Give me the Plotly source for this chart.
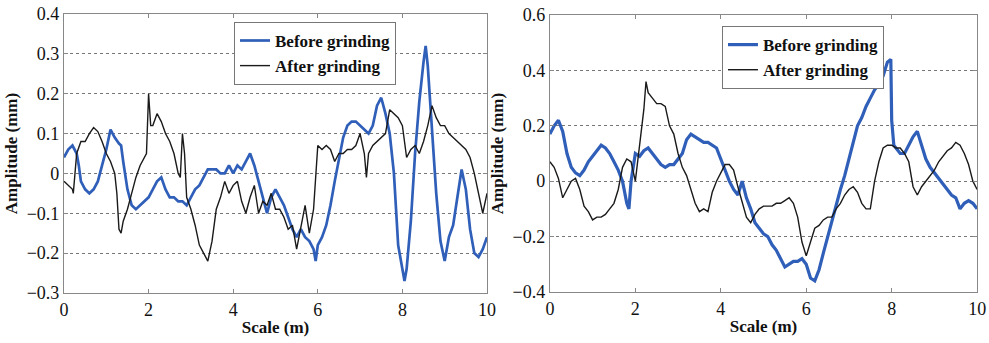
import plotly.graph_objects as go

# ---------- Left panel ----------
left_before_x = [0, 0.1, 0.2, 0.3, 0.35, 0.4, 0.5, 0.6, 0.7, 0.8, 0.9, 1.0, 1.1, 1.2, 1.3, 1.35, 1.4, 1.5, 1.6, 1.7,
                 1.8, 1.9, 2.0, 2.1, 2.2, 2.3, 2.4, 2.5, 2.6, 2.7, 2.8, 2.9, 3.0, 3.1, 3.2, 3.3, 3.4, 3.5, 3.6, 3.7,
                 3.8, 3.9, 4.0, 4.1, 4.2, 4.3, 4.4, 4.5, 4.6, 4.7, 4.8, 4.9, 5.0, 5.1, 5.2, 5.3, 5.4, 5.5, 5.6, 5.7,
                 5.8, 5.9, 5.95, 6.0, 6.1, 6.2, 6.3, 6.4, 6.5, 6.6, 6.7, 6.8, 6.9, 7.0, 7.1, 7.2, 7.3, 7.4, 7.5, 7.6,
                 7.7, 7.8, 7.9, 8.0, 8.05, 8.1, 8.2, 8.3, 8.4, 8.5, 8.55, 8.6, 8.7, 8.8, 8.9, 9.0, 9.1, 9.2, 9.3, 9.4,
                 9.5, 9.6, 9.7, 9.8, 9.9, 10.0]
left_before_y = [0.04, 0.06, 0.07, 0.05, 0.02, -0.02, -0.04, -0.05, -0.04, -0.02, 0.02, 0.06, 0.11, 0.09, 0.075, 0.07, 0.03, -0.04, -0.08, -0.09,
                 -0.08, -0.07, -0.06, -0.04, -0.02, -0.01, -0.04, -0.06, -0.06, -0.07, -0.07, -0.08, -0.06, -0.04, -0.03, -0.01, 0.01, 0.01, 0.01, 0.0,
                 0.0, 0.02, 0.0, 0.02, 0.01, 0.03, 0.05, 0.02, -0.02, -0.06, -0.10, -0.06, -0.04, -0.06, -0.08, -0.11, -0.14, -0.16, -0.14, -0.16,
                 -0.17, -0.19, -0.22, -0.18, -0.16, -0.13, -0.08, -0.02, 0.04, 0.09, 0.12, 0.13, 0.13, 0.12, 0.11, 0.10, 0.12, 0.17, 0.19, 0.15,
                 0.10, 0.0, -0.18, -0.24, -0.27, -0.24, -0.12, 0.05, 0.18, 0.28, 0.32, 0.27, 0.10, -0.05, -0.17, -0.22, -0.16, -0.13, -0.06, 0.01,
                 -0.04, -0.14, -0.20, -0.21, -0.19, -0.16]

left_after_x = [0, 0.1, 0.2, 0.22, 0.3, 0.4, 0.5, 0.6, 0.7, 0.8, 0.9, 1.0, 1.1, 1.2, 1.25, 1.3, 1.35, 1.4, 1.5, 1.6,
                1.7, 1.8, 1.9, 1.95, 2.0, 2.05, 2.1, 2.2, 2.3, 2.4, 2.5, 2.6, 2.7, 2.75, 2.8, 2.85, 2.9, 3.0, 3.1, 3.2,
                3.3, 3.4, 3.5, 3.6, 3.7, 3.8, 3.9, 4.0, 4.1, 4.2, 4.3, 4.4, 4.5, 4.6, 4.7, 4.8, 4.9, 5.0, 5.1, 5.2,
                5.3, 5.4, 5.5, 5.6, 5.7, 5.8, 5.9, 6.0, 6.1, 6.2, 6.3, 6.4, 6.5, 6.6, 6.7, 6.8, 6.9, 7.0, 7.1, 7.15,
                7.2, 7.3, 7.4, 7.5, 7.6, 7.7, 7.8, 7.9, 8.0, 8.1, 8.2, 8.3, 8.4, 8.5, 8.6, 8.7, 8.8, 8.9, 9.0, 9.1,
                9.2, 9.3, 9.4, 9.5, 9.6, 9.7, 9.8, 9.9, 10.0]
left_after_y = [-0.02, -0.03, -0.04, -0.05, 0.05, 0.08, 0.08, 0.10, 0.115, 0.105, 0.08, 0.05, 0.03, 0.0, -0.05, -0.14, -0.15, -0.12, -0.09, -0.05,
                -0.01, 0.02, 0.04, 0.05, 0.20, 0.12, 0.12, 0.15, 0.13, 0.10, 0.08, 0.05, 0.0, -0.01, 0.10, 0.05, -0.06, -0.09, -0.13, -0.18,
                -0.20, -0.22, -0.17, -0.09, -0.06, -0.02, -0.05, -0.03, -0.02, -0.07, -0.10, -0.06, -0.03, -0.10, -0.07, -0.08, -0.05, -0.09, -0.09, -0.11,
                -0.14, -0.13, -0.19, -0.13, -0.08, -0.15, -0.09, 0.07, 0.06, 0.07, 0.06, 0.03, 0.05, 0.05, 0.06, 0.06, 0.07, 0.10, 0.05, -0.01,
                0.05, 0.07, 0.08, 0.09, 0.10, 0.16, 0.15, 0.14, 0.12, 0.04, 0.06, 0.07, 0.05, 0.08, 0.12, 0.17, 0.14, 0.12, 0.12, 0.10,
                0.09, 0.08, 0.07, 0.06, 0.04, 0.0, -0.05, -0.10, -0.05]

# ---------- Right panel ----------
right_before_x = [0, 0.1, 0.2, 0.3, 0.4, 0.5, 0.6, 0.7, 0.8, 0.9, 1.0, 1.1, 1.2, 1.3, 1.4, 1.5, 1.6, 1.7, 1.8, 1.85,
                  1.9, 2.0, 2.1, 2.2, 2.3, 2.4, 2.5, 2.6, 2.7, 2.8, 2.9, 3.0, 3.1, 3.2, 3.3, 3.4, 3.5, 3.6, 3.7, 3.8,
                  3.9, 4.0, 4.1, 4.2, 4.3, 4.4, 4.5, 4.6, 4.7, 4.8, 4.9, 5.0, 5.1, 5.2, 5.3, 5.4, 5.5, 5.6, 5.7, 5.8,
                  5.9, 6.0, 6.1, 6.2, 6.3, 6.4, 6.5, 6.6, 6.7, 6.8, 6.9, 7.0, 7.1, 7.2, 7.3, 7.4, 7.5, 7.6, 7.7, 7.8,
                  7.9, 7.98, 8.0, 8.05, 8.1, 8.2, 8.3, 8.4, 8.5, 8.6, 8.7, 8.8, 8.9, 9.0, 9.1, 9.2, 9.3, 9.4, 9.5, 9.6,
                  9.7, 9.8, 9.9, 10.0]
right_before_y = [0.17, 0.20, 0.22, 0.18, 0.10, 0.05, 0.03, 0.02, 0.04, 0.07, 0.09, 0.11, 0.13, 0.12, 0.10, 0.07, 0.04, 0.0, -0.08, -0.10,
                  0.0, 0.10, 0.09, 0.11, 0.12, 0.10, 0.08, 0.06, 0.05, 0.06, 0.06, 0.08, 0.10, 0.15, 0.17, 0.16, 0.15, 0.14, 0.14, 0.13,
                  0.12, 0.08, 0.04, 0.0, -0.03, -0.05, 0.0, -0.06, -0.10, -0.15, -0.17, -0.19, -0.20, -0.23, -0.25, -0.28, -0.31, -0.30, -0.29, -0.29,
                  -0.28, -0.30, -0.35, -0.36, -0.32, -0.26, -0.20, -0.14, -0.08, -0.03, 0.02, 0.08, 0.14, 0.20, 0.23, 0.27, 0.30, 0.33, 0.35, 0.38,
                  0.43, 0.44, 0.22, 0.13, 0.12, 0.10, 0.10, 0.13, 0.16, 0.18, 0.13, 0.08, 0.05, 0.03, 0.01, -0.01, -0.03, -0.05, -0.06, -0.10,
                  -0.08, -0.07, -0.08, -0.10]

right_after_x = [0, 0.1, 0.2, 0.3, 0.4, 0.5, 0.6, 0.7, 0.8, 0.9, 1.0, 1.1, 1.2, 1.3, 1.4, 1.5, 1.6, 1.7, 1.8, 1.9,
                 2.0, 2.1, 2.2, 2.25, 2.3, 2.4, 2.5, 2.6, 2.7, 2.8, 2.9, 3.0, 3.1, 3.2, 3.3, 3.4, 3.5, 3.6, 3.7, 3.8,
                 3.9, 4.0, 4.1, 4.2, 4.3, 4.4, 4.5, 4.6, 4.7, 4.8, 4.9, 5.0, 5.1, 5.2, 5.3, 5.4, 5.5, 5.6, 5.7, 5.8,
                 5.9, 6.0, 6.1, 6.2, 6.3, 6.4, 6.5, 6.6, 6.7, 6.8, 6.9, 7.0, 7.1, 7.2, 7.3, 7.4, 7.5, 7.6, 7.7, 7.8,
                 7.9, 8.0, 8.1, 8.2, 8.3, 8.4, 8.5, 8.6, 8.7, 8.8, 8.9, 9.0, 9.1, 9.2, 9.3, 9.4, 9.5, 9.6, 9.7, 9.8,
                 9.9, 10.0]
right_after_y = [0.07, 0.05, 0.01, -0.06, -0.03, 0.0, 0.01, -0.03, -0.09, -0.11, -0.14, -0.13, -0.13, -0.12, -0.10, -0.08, -0.03, 0.05, 0.08, 0.07,
                 0.0, 0.14, 0.26, 0.36, 0.32, 0.30, 0.28, 0.28, 0.27, 0.20, 0.17, 0.10, 0.05, 0.02, -0.03, -0.08, -0.11, -0.10, -0.11, -0.04,
                 0.0, 0.03, 0.06, 0.06, 0.04, -0.02, -0.08, -0.13, -0.15, -0.12, -0.10, -0.09, -0.09, -0.09, -0.08, -0.08, -0.07, -0.06, -0.08, -0.13,
                 -0.22, -0.27, -0.22, -0.17, -0.16, -0.14, -0.13, -0.13, -0.10, -0.08, -0.05, -0.03, -0.02, -0.04, -0.08, -0.10, -0.10, 0.0, 0.07, 0.12,
                 0.13, 0.13, 0.12, 0.12, 0.10, 0.07, -0.02, -0.05, -0.02, 0.0, 0.02, 0.04, 0.07, 0.09, 0.11, 0.12, 0.14, 0.13, 0.10, 0.06,
                 0.0, -0.03]

x_ticks = [0, 2, 4, 6, 8, 10]
left_y_ticks = [-0.3, -0.2, -0.1, 0, 0.1, 0.2, 0.3, 0.4]
right_y_ticks = [-0.4, -0.2, 0, 0.2, 0.4, 0.6]

def tick_text(vals):
    out = []
    for v in vals:
        if v == 0:
            out.append("0")
        elif v < 0:
            out.append("\u2212" + f"{-v:g}")
        else:
            out.append(f"{v:g}")
    return out

BLUE = "#2f5fb8"
BLACK = "#1a1a1a"
FONT = "Liberation Serif"

fig = go.Figure()
fig.add_trace(go.Scatter(x=left_before_x, y=left_before_y, mode="lines", name="Before grinding",
                         line=dict(color=BLUE, width=2.7), xaxis="x", yaxis="y", legend="legend"))
fig.add_trace(go.Scatter(x=left_after_x, y=left_after_y, mode="lines", name="After grinding",
                         line=dict(color=BLACK, width=1.4), xaxis="x", yaxis="y", legend="legend"))
fig.add_trace(go.Scatter(x=right_before_x, y=right_before_y, mode="lines", name="Before grinding",
                         line=dict(color=BLUE, width=3.2), xaxis="x2", yaxis="y2", legend="legend2"))
fig.add_trace(go.Scatter(x=right_after_x, y=right_after_y, mode="lines", name="After grinding",
                         line=dict(color=BLACK, width=1.4), xaxis="x2", yaxis="y2", legend="legend2"))

axis_common = dict(showline=True, linecolor="#888888", linewidth=1.2, mirror="ticks",
                   ticks="inside", ticklen=4, tickcolor="#888888", zeroline=False, automargin=False,
                   ticklabeloverflow="allow",
                   tickfont=dict(family=FONT, size=18, color="#111111"))

fig.update_layout(
    width=989, height=343,
    margin=dict(l=0, r=0, t=0, b=0),
    paper_bgcolor="white", plot_bgcolor="white",
    font=dict(family=FONT, color="#111111"),
    xaxis=dict(domain=[0.0647, 0.4924], range=[0, 10], tickvals=x_ticks, ticktext=[str(v) for v in x_ticks],
               showgrid=False, anchor="y",
               title=dict(text="<b>Scale (m)</b>", font=dict(family=FONT, size=17), standoff=2), **axis_common),
    yaxis=dict(domain=[0.146, 0.959], range=[-0.3, 0.4], tickvals=left_y_ticks, ticktext=tick_text(left_y_ticks),
               showgrid=True, gridcolor="#777777", griddash="dot", gridwidth=1.2, anchor="x",
               title=dict(text="<b>Amplitude (mm)</b>", font=dict(family=FONT, size=17), standoff=4), **axis_common),
    xaxis2=dict(domain=[0.556, 0.988], range=[0, 10], tickvals=x_ticks, ticktext=[str(v) for v in x_ticks],
                showgrid=False, anchor="y2",
                title=dict(text="<b>Scale (m)</b>", font=dict(family=FONT, size=17), standoff=2), **axis_common),
    yaxis2=dict(domain=[0.149, 0.956], range=[-0.4, 0.6], tickvals=right_y_ticks, ticktext=tick_text(right_y_ticks),
                showgrid=True, gridcolor="#777777", griddash="dot", gridwidth=1.2, anchor="x2",
                title=dict(text="<b>Amplitude (mm)</b>", font=dict(family=FONT, size=17), standoff=4), **axis_common),
    legend=dict(x=0.2366, y=0.936, xanchor="left", yanchor="top", bgcolor="white",
                bordercolor="#777777", borderwidth=1, tracegroupgap=0,
                font=dict(family=FONT, size=17, color="#111111"), itemwidth=30),
    legend2=dict(x=0.730, y=0.924, xanchor="left", yanchor="top", bgcolor="white",
                 bordercolor="#777777", borderwidth=1, tracegroupgap=0,
                 font=dict(family=FONT, size=17, color="#111111"), itemwidth=30),
)

# bold legend labels
for tr in fig.data:
    tr.name = "<b>" + tr.name + "</b>"

fig.write_html("out.html", config={"displayModeBar": False},
               post_script="document.body.style.margin='0px';document.body.style.overflow='hidden';")
